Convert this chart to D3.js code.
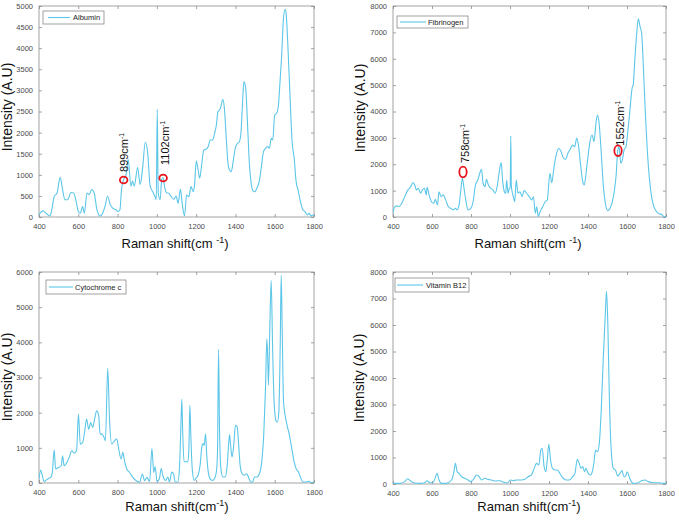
<!DOCTYPE html>
<html>
<head>
<meta charset="utf-8">
<script src="https://cdn.jsdelivr.net/npm/d3@7"></script>
<style>
  html, body { margin: 0; padding: 0; background: #fff; }
  svg { display: block; font-family: "Liberation Sans", Arial, sans-serif; }
</style>
</head>
<body>
<svg id="chart" width="679" height="521"></svg>
<script>
// ---------------- DATA ----------------
const xTickValues = [400, 600, 800, 1000, 1200, 1400, 1600, 1800];

const albuminShift = [400,405,419,436,453,461,478,492,508,520,532,546,563,576,588,600,610,622,631,644,656,668,681,695,712,724,736,749,763,775,792,803,812,820,831,842,854,868,876,885,902,915,927,941,953,966,978,990,997,1002,1007,1017,1025,1032,1040,1049,1061,1073,1086,1098,1108,1120,1129,1141,1151,1163,1174,1185,1191,1201,1210,1218,1227,1239,1250,1261,1272,1284,1294,1303,1311,1320,1328,1335,1343,1354,1362,1370,1379,1387,1399,1411,1420,1428,1436,1443,1452,1460,1469,1479,1489,1499,1509,1521,1531,1543,1553,1565,1573,1582,1590,1600,1610,1619,1627,1636,1644,1653,1658,1668,1678,1688,1700,1709,1719,1729,1742,1754,1766,1776,1785,1793,1800];
const albuminIntensity = [60,88,144,88,24,90,490,570,940,650,410,410,580,570,400,130,90,250,90,570,530,650,570,170,24,90,250,490,290,210,170,130,170,650,890,970,1370,730,850,730,1170,770,1130,1770,1530,730,610,490,410,2550,570,410,900,930,700,577,561,482,419,498,324,656,324,24,522,482,719,600,719,1327,1114,917,1193,1588,1604,1667,1825,1825,1983,2180,2497,2536,2655,2789,2615,1825,1272,1114,1075,1272,1628,1746,1786,1983,2694,3208,3073,2378,1430,837,624,600,679,837,1154,1549,1628,1667,1628,1865,1825,2418,2457,2655,3208,3879,4669,4922,4827,3958,2852,1825,1351,837,640,403,182,127,48,87,24,48,24];

const fibrinogenShift = [400,405,417,431,443,460,477,491,503,511,520,530,542,551,561,571,575,585,597,609,617,628,636,646,657,670,684,696,708,720,729,739,747,756,763,773,785,799,811,823,835,845,854,862,872,879,889,900,913,924,934,944,955,962,971,978,983,990,997,1001,1004,1007,1017,1024,1032,1041,1051,1062,1072,1085,1099,1111,1120,1130,1137,1145,1154,1168,1180,1191,1205,1214,1226,1239,1251,1262,1274,1285,1297,1311,1321,1332,1342,1352,1362,1373,1381,1390,1400,1410,1421,1431,1439,1448,1456,1467,1479,1489,1501,1513,1525,1537,1545,1552,1559,1568,1576,1585,1595,1605,1615,1626,1632,1641,1650,1658,1667,1675,1684,1694,1704,1714,1726,1738,1752,1766,1778,1790,1800];
const fibrinogenIntensity = [140,330,420,390,495,770,1030,1150,1310,1220,1030,1090,900,1030,1090,840,1130,840,580,520,670,460,960,770,840,650,390,330,270,330,270,460,960,1470,1150,650,270,330,580,1220,1410,1660,1810,1280,1150,1430,1220,1090,1030,900,1150,1660,2060,1400,960,900,1400,900,1090,1100,3080,1150,770,580,1400,900,960,770,1000,900,770,645,770,140,390,15,200,390,580,645,1660,1300,1910,2420,2600,2480,2230,2190,2420,2600,2730,2670,2990,2670,1970,1340,1215,1660,2290,2860,3110,2860,3430,3870,3620,2540,1150,520,240,330,580,1090,1660,2480,2670,2040,2160,2540,2670,3300,4060,4880,5010,6080,6970,7510,7220,6970,5700,3940,2540,1530,770,390,200,115,100,15,15];

const cytochromeShift = [400,409,417,426,434,448,460,468,477,485,499,513,520,528,542,554,567,579,591,601,610,622,632,642,653,663,673,683,694,704,711,721,731,738,750,759,770,784,796,806,818,827,835,847,861,878,895,912,926,938,950,963,975,984,991,1001,1013,1022,1030,1044,1056,1064,1076,1085,1093,1107,1115,1122,1127,1132,1139,1149,1158,1163,1168,1173,1180,1190,1200,1210,1220,1229,1236,1241,1248,1254,1263,1273,1285,1295,1304,1309,1314,1319,1326,1336,1348,1358,1365,1370,1377,1383,1392,1400,1409,1416,1424,1434,1446,1458,1468,1478,1488,1497,1509,1522,1534,1544,1553,1560,1565,1568,1575,1582,1589,1597,1606,1614,1621,1628,1633,1638,1645,1653,1663,1675,1687,1699,1709,1721,1731,1743,1760,1774,1785,1800];
const cytochromeIntensity = [110,370,210,40,70,130,160,300,945,400,440,490,775,490,585,730,915,850,915,1960,1105,1150,1440,1815,1530,1720,1580,1815,2050,1910,1390,1390,1295,1200,3260,1815,1105,1200,1250,965,680,870,635,400,300,160,65,20,255,65,160,40,980,300,470,40,120,410,220,75,170,30,310,265,30,30,410,1545,2380,1355,615,600,615,975,2210,1355,410,75,140,220,500,1025,1120,1070,1400,785,265,105,75,140,360,975,3800,1545,410,170,170,500,1070,1375,975,740,1120,1640,1590,1120,500,265,220,265,140,30,30,170,170,265,600,1355,2680,4100,3440,2780,4390,5760,3915,2300,1780,1735,2020,3915,5905,4390,2300,1925,1640,1355,975,600,410,310,170,30,30,50,10,30];

const vitaminShift = [400,434,460,474,489,506,537,563,575,588,605,616,626,636,648,674,700,711,720,729,739,751,768,785,799,816,828,842,854,871,888,905,927,948,968,987,1002,1016,1033,1059,1076,1093,1110,1124,1136,1148,1158,1165,1175,1184,1191,1199,1208,1218,1230,1242,1256,1269,1287,1304,1321,1333,1345,1355,1364,1373,1382,1389,1401,1413,1422,1430,1439,1449,1458,1468,1478,1489,1495,1502,1509,1518,1530,1542,1552,1564,1574,1584,1593,1601,1611,1622,1632,1658,1675,1692,1709,1735,1760,1786,1800];
const vitaminIntensity = [25,25,90,200,125,50,25,50,125,50,50,215,400,150,25,25,150,400,780,465,400,275,215,150,90,215,340,275,150,215,175,150,115,125,65,40,150,125,150,150,175,275,340,590,780,720,1285,1350,655,465,905,1500,905,590,530,530,400,250,150,150,275,400,930,780,590,655,465,590,400,340,465,780,1285,1220,1540,2800,4690,6450,7270,5950,3430,1410,590,505,300,400,505,275,300,465,275,90,25,50,125,150,90,50,50,25,25];

const seriesNames = ["Albumin", "Fibrinogen", "Cytochrome c", "Vitamin B12"];
const yMaxima = [5000, 8000, 6000, 8000];
const yTickSteps = [500, 1000, 1000, 1000];

// peak annotations (Albumin, Fibrinogen)
const albuminMarkShift = [831, 1032];
const albuminMarkIntensity = [877, 924];
const albuminMarkLabel = ["899", "1102"];
const fibrinogenMarkShift = [759, 1554];
const fibrinogenMarkIntensity = [1706, 2514];
const fibrinogenMarkLabel = ["758", "1552"];

// ---------------- LAYOUT ----------------
const lineColor = "#5cc6e8";
const boxColor = "#8c8c8c";
const tickTextColor = "#4a4a4a";

const layouts = [
  { l: 39, r: 314, t: 6,   b: 217, ylabX: 12,  ylabY: 107, xlabX: 175, xlabY: 248, xlabSpace: true,
    leg: { x: 43, y: 11, w: 61, h: 13, l1: 48, l2: 70, tx: 73 } },
  { l: 393, r: 666, t: 6,  b: 217, ylabX: 365, ylabY: 108, xlabX: 528, xlabY: 248, xlabSpace: true,
    leg: { x: 397, y: 16, w: 71, h: 12, l1: 400, l2: 426, tx: 428 } },
  { l: 39, r: 314, t: 272, b: 483, ylabX: 12,  ylabY: 377, xlabX: 177, xlabY: 511, xlabSpace: false,
    leg: { x: 46, y: 280, w: 80, h: 14, l1: 49, l2: 73, tx: 75 } },
  { l: 393, r: 666, t: 272, b: 484, ylabX: 364, ylabY: 378, xlabX: 529, xlabY: 511, xlabSpace: false,
    leg: { x: 395, y: 278, w: 74, h: 14, l1: 397, l2: 423, tx: 426 } }
];

const seriesData = [
  [albuminShift, albuminIntensity],
  [fibrinogenShift, fibrinogenIntensity],
  [cytochromeShift, cytochromeIntensity],
  [vitaminShift, vitaminIntensity]
];

const marks = [
  { shift: albuminMarkShift, inten: albuminMarkIntensity, label: albuminMarkLabel,
    rx: 3.8, ry: 3.4, gap: [8, 13], dx: [0, 2] },
  { shift: fibrinogenMarkShift, inten: fibrinogenMarkIntensity, label: fibrinogenMarkLabel,
    rx: 3.7, ry: 5.3, gap: [9, 5], dx: [2, 2] },
  null, null
];

const svg = d3.select("#chart");

layouts.forEach((L, i) => {
  const g = svg.append("g");
  const x = d3.scaleLinear().domain([400, 1800]).range([L.l, L.r]);
  const y = d3.scaleLinear().domain([0, yMaxima[i]]).range([L.b, L.t]);
  const yTicks = d3.range(0, yMaxima[i] + 1, yTickSteps[i]);

  const clipId = "clip" + i;
  g.append("clipPath").attr("id", clipId).append("rect")
    .attr("x", L.l).attr("y", L.t).attr("width", L.r - L.l).attr("height", L.b - L.t);

  // axes
  const styleAxis = sel => {
    sel.select(".domain").remove();
    sel.selectAll(".tick line").attr("stroke", boxColor).attr("stroke-width", 0.8);
    sel.selectAll(".tick text").attr("fill", tickTextColor).style("font-size", "7.5px")
      .style("font-family", "'Liberation Sans', Arial, sans-serif");
  };
  g.append("g").attr("transform", `translate(0,${L.b})`)
    .call(d3.axisBottom(x).tickValues(xTickValues).tickSize(-3).tickPadding(7).tickFormat(d3.format("d")))
    .call(styleAxis);
  g.append("g").attr("transform", `translate(0,${L.t})`)
    .call(d3.axisTop(x).tickValues(xTickValues).tickSize(-3).tickFormat(""))
    .call(styleAxis);
  g.append("g").attr("transform", `translate(${L.l},0)`)
    .call(d3.axisLeft(y).tickValues(yTicks).tickSize(-3).tickPadding(6).tickFormat(d3.format("d")))
    .call(styleAxis);
  g.append("g").attr("transform", `translate(${L.r},0)`)
    .call(d3.axisRight(y).tickValues(yTicks).tickSize(-3).tickFormat(""))
    .call(styleAxis);

  // box
  g.append("rect").attr("x", L.l).attr("y", L.t).attr("width", L.r - L.l).attr("height", L.b - L.t)
    .attr("fill", "none").attr("stroke", boxColor).attr("stroke-width", 0.8);

  // line
  const [sx, sy] = seriesData[i];
  const pts = sx.map((v, k) => [v, sy[k]]);
  g.append("path").datum(pts)
    .attr("clip-path", `url(#${clipId})`)
    .attr("fill", "none").attr("stroke", lineColor).attr("stroke-width", 1.1)
    .attr("stroke-linejoin", "round")
    .attr("d", d3.line().x(d => x(d[0])).y(d => y(d[1])).curve(d3.curveMonotoneX));

  // legend
  const lg = L.leg;
  g.append("rect").attr("x", lg.x).attr("y", lg.y).attr("width", lg.w).attr("height", lg.h)
    .attr("fill", "#fff").attr("stroke", "#7a7a7a").attr("stroke-width", 0.7);
  g.append("line").attr("x1", lg.l1).attr("x2", lg.l2).attr("y1", lg.y + lg.h / 2).attr("y2", lg.y + lg.h / 2)
    .attr("stroke", lineColor).attr("stroke-width", 1.1);
  g.append("text").attr("x", lg.tx).attr("y", lg.y + lg.h / 2 + 2.6)
    .attr("fill", "#222").style("font-size", "7.5px").text(seriesNames[i]);

  // axis titles
  g.append("text")
    .attr("transform", `translate(${L.ylabX},${L.ylabY}) rotate(-90)`)
    .attr("text-anchor", "middle").attr("fill", "#111").style("font-size", "14px")
    .text("Intensity (A.U)");
  const xl = g.append("text").attr("x", L.xlabX).attr("y", L.xlabY)
    .attr("text-anchor", "middle").attr("fill", "#111").style("font-size", "13px");
  xl.append("tspan").text("Raman shift(cm" + (L.xlabSpace ? " " : ""));
  xl.append("tspan").attr("dy", -5).style("font-size", "9px").text("-1");
  xl.append("tspan").attr("dy", 5).text(")");

  // annotations
  const M = marks[i];
  if (M) {
    M.shift.forEach((s, k) => {
      const cx = x(s), cy = y(M.inten[k]);
      g.append("ellipse").attr("cx", cx).attr("cy", cy).attr("rx", M.rx).attr("ry", M.ry)
        .attr("fill", "none").attr("stroke", "#e8141c").attr("stroke-width", 1.8);
      const t = g.append("text")
        .attr("transform", `translate(${cx + 4 + M.dx[k]},${cy - M.gap[k]}) rotate(-90)`)
        .attr("fill", "#111").style("font-size", "11px");
      t.append("tspan").text(M.label[k] + "cm");
      t.append("tspan").attr("dy", -4).style("font-size", "6.5px").text("-1");
    });
  }
});
</script>
</body>
</html>
